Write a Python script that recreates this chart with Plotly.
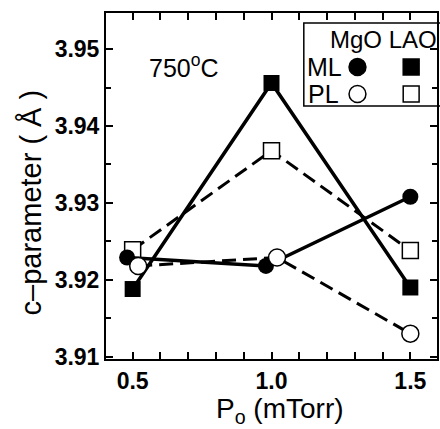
import plotly.graph_objects as go

# Data
p_ml_mgo = [0.48, 0.98, 1.50]
c_ml_mgo = [3.9229, 3.9218, 3.9308]
p_pl_mgo = [0.52, 1.02, 1.50]
c_pl_mgo = [3.9218, 3.9229, 3.9130]
p_ml_lao = [0.50, 1.00, 1.50]
c_ml_lao = [3.9188, 3.9456, 3.9190]
p_pl_lao = [0.50, 1.00, 1.50]
c_pl_lao = [3.9239, 3.9368, 3.9238]

x_ticks = [0.5, 1.0, 1.5]
x_labels = ["0.5", "1.0", "1.5"]
y_ticks = [3.91, 3.92, 3.93, 3.94, 3.95]
y_labels = ["3.91", "3.92", "3.93", "3.94", "3.95"]

W, H = 440, 429
L, R, T, B = 106, 1, 13, 70
PW, PH = W - L - R, H - T - B

def px(x):
    return (x - L) / PW

def py(y):
    return (H - B - y) / PH

DASH = "14px,7px"
fig = go.Figure()
fig.add_trace(go.Scatter(x=p_pl_lao, y=c_pl_lao, mode="lines+markers",
                         line=dict(color="black", width=3, dash=DASH),
                         marker=dict(symbol="square", size=16, color="white",
                                     line=dict(color="black", width=1.5))))
fig.add_trace(go.Scatter(x=p_ml_lao, y=c_ml_lao, mode="lines+markers",
                         line=dict(color="black", width=3.5),
                         marker=dict(symbol="square", size=16, color="black")))
fig.add_trace(go.Scatter(x=p_ml_mgo, y=c_ml_mgo, mode="lines+markers",
                         line=dict(color="black", width=3.5),
                         marker=dict(symbol="circle", size=16, color="black")))
fig.add_trace(go.Scatter(x=p_pl_mgo, y=c_pl_mgo, mode="lines+markers",
                         line=dict(color="black", width=3, dash=DASH),
                         marker=dict(symbol="circle", size=17, color="white",
                                     line=dict(color="black", width=1.5))))

tickfont = dict(family="Liberation Sans", size=23, color="black", weight="bold")
fig.update_xaxes(range=[0.404, 1.596], tickvals=x_ticks, ticktext=x_labels,
                 ticks="inside", ticklen=7, tickwidth=1.5, tickcolor="black",
                 showline=True, linecolor="black", linewidth=2, mirror="allticks",
                 showgrid=False, zeroline=False, tickfont=tickfont,
                 minor=dict(dtick=0.1, tick0=0.5, ticks="inside", ticklen=7,
                            tickwidth=1.5, tickcolor="black", showgrid=False))
fig.update_yaxes(range=[3.9097, 3.9547], tickvals=y_ticks, ticktext=y_labels,
                 ticks="inside", ticklen=7, tickwidth=1.5, tickcolor="black",
                 showline=True, linecolor="black", linewidth=2, mirror="allticks",
                 showgrid=False, zeroline=False, tickfont=tickfont,
                 minor=dict(dtick=0.005, tick0=3.91, ticks="inside", ticklen=5,
                            tickwidth=1.5, tickcolor="black", showgrid=False))

anns = []
txt = dict(family="Liberation Sans", color="black")
anns.append(dict(x=px(31), y=py(202), text="c\u2013parameter ( \u00c5 )", textangle=-90,
                 font=dict(size=29, **txt)))
anns.append(dict(x=px(281), y=py(410), text="P<sub>o</sub> (mTorr)",
                 font=dict(size=28, **txt)))
anns.append(dict(x=px(184), y=py(66), text="750<sup>o</sup>C",
                 font=dict(size=25, **txt)))
anns.append(dict(x=px(385), y=py(39), text="MgO LAO", font=dict(size=24, **txt)))
anns.append(dict(x=px(326), y=py(67), text="ML", font=dict(size=25, **txt)))
anns.append(dict(x=px(325), y=py(94), text="PL", font=dict(size=25, **txt)))
for a in anns:
    a.update(xref="paper", yref="paper", showarrow=False, xanchor="center", yanchor="middle")

shapes = [dict(type="rect", xref="paper", yref="paper", x0=px(305), x1=px(445),
               y0=py(106), y1=py(23), line=dict(color="black", width=1.5),
               fillcolor="white", layer="below")]
for cx, cy, kind, fill, r in [(359, 67, "circle", "black", 8.5), (413, 67, "rect", "black", 8),
                              (359, 94, "circle", "white", 8.5), (413, 94, "rect", "white", 8)]:
    shapes.append(dict(type=kind, xref="paper", yref="paper",
                       x0=px(cx - r), x1=px(cx + r), y0=py(cy + r), y1=py(cy - r),
                       line=dict(color="black", width=1.5), fillcolor=fill))

fig.update_layout(width=W, height=H, margin=dict(l=L, r=R, t=T, b=B),
                  paper_bgcolor="white", plot_bgcolor="white", showlegend=False,
                  annotations=anns, shapes=shapes)
fig.write_html("out.html", config={"displayModeBar": False},
               post_script="document.body.style.margin='0';document.body.style.overflow='hidden';")
